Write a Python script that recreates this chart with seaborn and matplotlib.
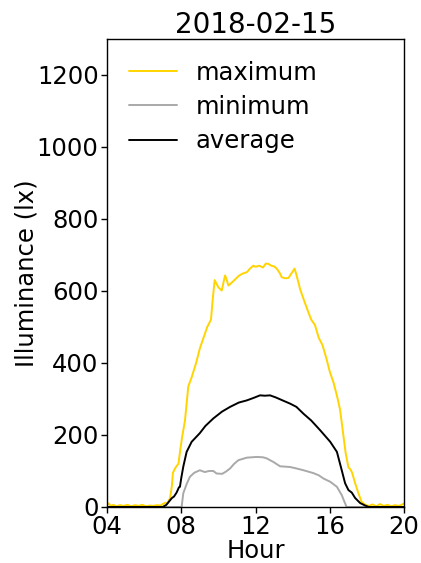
import matplotlib
matplotlib.use("Agg")
import matplotlib.pyplot as plt
import seaborn as sns
import pandas as pd

# Illuminance readings for 2018-02-15 (hour of day, lux)
max_hours = [4.0, 4.1, 4.2, 4.35, 4.5, 4.7, 4.9, 5.1, 5.3, 5.5, 5.7, 5.9, 6.1, 6.3, 6.5,
             6.7, 6.9, 7.0, 7.15, 7.25, 7.4, 7.5, 7.55, 7.7, 7.85, 7.95, 8.05, 8.2, 8.38,
             8.56, 8.8, 9.0, 9.2, 9.4, 9.6, 9.7, 9.8, 9.9, 10.0, 10.1, 10.18, 10.28, 10.36,
             10.45, 10.54, 10.7, 10.9, 11.1, 11.3, 11.53, 11.7, 11.88, 12.0, 12.2, 12.4,
             12.55, 12.69, 12.85, 13.0, 13.14, 13.3, 13.41, 13.6, 13.77, 13.95, 14.1,
             14.2, 14.4, 14.6, 14.85, 15.0, 15.2, 15.4, 15.6, 15.8, 16.0, 16.2, 16.4,
             16.55, 16.7, 16.85, 17.0, 17.1, 17.2, 17.36, 17.54, 17.7, 17.9, 18.1, 18.3,
             18.5, 18.7, 18.9, 19.1, 19.3, 19.5, 19.7, 19.9, 20.0]
max_lux = [5, 10, 3, 6, 2, 5, 3, 6, 2, 5, 3, 6, 2, 4, 3,
           5, 4, 8, 12, 10, 25, 60, 95, 110, 120, 160, 195, 240, 335,
           360, 400, 440, 470, 500, 520, 580, 630, 620, 610, 605, 601, 625, 643,
           630, 615, 622, 632, 642, 648, 652, 662, 670, 667, 670, 665,
           676, 675, 670, 668, 662, 650, 638, 635, 636, 650, 662,
           645, 605, 575, 540, 520, 505, 470, 450, 415, 375, 345, 305,
           270, 210, 150, 110, 105, 95, 66, 38, 15, 6, 3, 7,
           2, 8, 3, 6, 2, 5, 3, 7, 10]

min_hours = [4.0, 8.02, 8.11, 8.3, 8.47, 8.7, 9.0, 9.27, 9.5, 9.73, 9.9, 10.2, 10.4,
             10.63, 10.85, 11.08, 11.53, 12.07, 12.4, 12.6, 12.96, 13.32, 13.86, 14.2,
             14.58, 15.12, 15.4, 15.66, 16.02, 16.38, 16.64, 16.82, 16.9, 20.0]
min_lux = [0, 0, 38, 65, 84, 95, 102, 97, 100, 100, 93, 92, 98,
           107, 120, 130, 137, 139, 138, 135, 125, 113, 111, 107,
           102, 94, 88, 79, 70, 56, 33, 10, 0, 0]

avg_hours = [4.0, 7.0, 7.07, 7.2, 7.34, 7.5, 7.61, 7.75, 7.88, 7.93, 8.0, 8.11, 8.29,
             8.56, 9.0, 9.3, 9.73, 10.2, 10.63, 11.1, 11.53, 11.9, 12.24, 12.5, 12.78,
             13.1, 13.5, 13.86, 14.2, 14.58, 15.0, 15.48, 16.02, 16.38, 16.64, 16.82,
             17.0, 17.18, 17.36, 17.63, 17.9, 18.1, 20.0]
avg_lux = [0, 0, 2, 6, 15, 25, 29, 40, 55, 56, 80, 112, 153,
           181, 205, 225, 246, 265, 278, 290, 296, 303, 310, 309, 310,
           304, 295, 287, 278, 259, 240, 213, 181, 153, 102, 66,
           47, 40, 25, 11, 4, 0, 0]

series_labels = ["maximum", "minimum", "average"]
series_colors = ["#FFD400", "#A9A9A9", "#000000"]
x_ticks = [4, 8, 12, 16, 20]
x_tick_labels = ["04", "08", "12", "16", "20"]
y_ticks = [0, 200, 400, 600, 800, 1000, 1200]

frames = [
    pd.DataFrame({"hour": max_hours, "lux": max_lux}),
    pd.DataFrame({"hour": min_hours, "lux": min_lux}),
    pd.DataFrame({"hour": avg_hours, "lux": avg_lux}),
]

sns.set_theme(style="ticks")
plt.rcParams["font.family"] = ["DejaVu Sans"]
plt.rcParams["axes.edgecolor"] = "black"
plt.rcParams["xtick.color"] = "black"
plt.rcParams["ytick.color"] = "black"
plt.rcParams["text.color"] = "black"
plt.rcParams["axes.labelcolor"] = "black"

fig, ax = plt.subplots(figsize=(4.21, 5.63), dpi=100)
fig.subplots_adjust(left=0.254, right=0.96, top=0.931, bottom=0.0995)

for df, label, color in zip(frames, series_labels, series_colors):
    sns.lineplot(data=df, x="hour", y="lux", ax=ax, color=color, label=label,
                 linewidth=1.4, estimator=None, sort=True)

fs = 17.5
ax.set_xlim(4, 20)
ax.set_ylim(0, 1300)
ax.set_xticks(x_ticks)
ax.set_xticklabels(x_tick_labels)
ax.set_yticks(y_ticks)
ax.tick_params(labelsize=fs, length=4, width=1, pad=2)
ax.set_xlabel("Hour", fontsize=fs, labelpad=0)
ax.set_ylabel("Illuminance (lx)", fontsize=fs, labelpad=-1)
ax.set_title("2018-02-15", fontsize=20, pad=4)
for s in ax.spines.values():
    s.set_visible(True)
    s.set_linewidth(1)
    s.set_color("black")

ax.legend(loc="upper left", frameon=False, fontsize=fs, labelspacing=0.42,
          handlelength=2.0, handletextpad=0.75)

fig.savefig("out.png", dpi=100)
